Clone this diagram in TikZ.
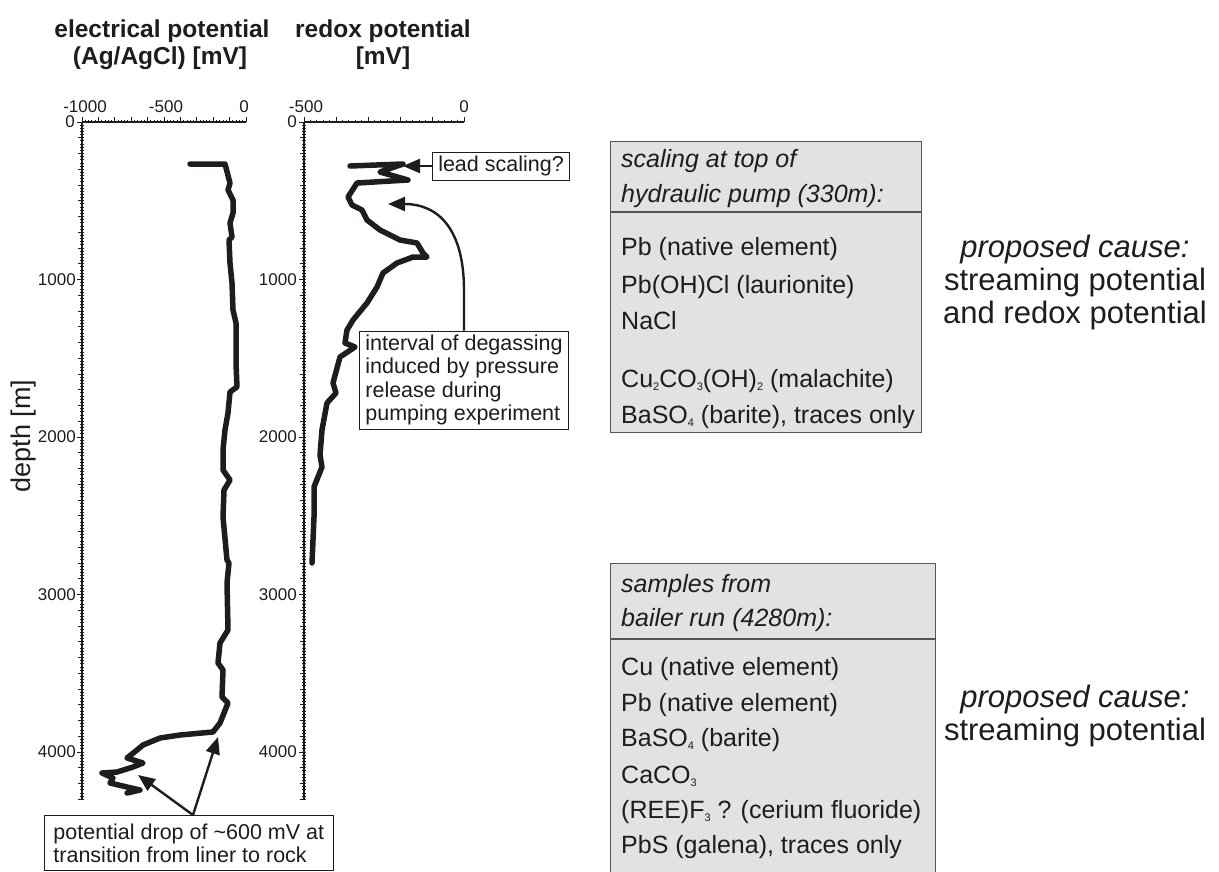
\documentclass[tikz,border=0pt]{standalone}
\usepackage{fontspec}
\setmainfont{Liberation Sans}
\usetikzlibrary{arrows.meta}
\definecolor{boxgray}{RGB}{226,226,226}
\definecolor{boxedge}{RGB}{85,85,85}
\definecolor{ink}{RGB}{30,28,28}
\newcommand\lowsub[1]{\raisebox{-0.3ex}{\fontsize{11}{11}\selectfont #1}}
\newcommand\szbox{\fontsize{25}{30}\selectfont}
\newcommand\sztitle{\fontsize{24.5}{28}\selectfont}
\newcommand\sztick{\fontsize{17}{19}\selectfont}
\newcommand\szann{\fontsize{21.5}{23.3}\selectfont}
\newcommand\szcause{\fontsize{31}{33}\selectfont}
\newcommand\szdepth{\fontsize{27}{30}\selectfont}
\begin{document}
\begin{tikzpicture}[x=1pt,y=-1pt,
  every node/.style={inner sep=0pt, text=ink},
  ttl/.style={font=\sztitle\bfseries, anchor=base},
  tlab/.style={font=\sztick},
  itm/.style={font=\szbox, anchor=base west},
  hdr/.style={font=\szbox\itshape, anchor=base west},
  cause/.style={font=\szcause, anchor=base},
  ann/.style={draw=ink, line width=0.9pt, font=\szann, align=left, inner xsep=6pt, inner ysep=4pt},
  arr/.style={draw=ink, line width=2.4pt, -{Triangle[length=17pt,width=14pt]}},
  curve/.style={draw=ink, line width=5.5pt, line join=round, line cap=round},
  axis/.style={draw=ink, line width=1.5pt},
  tick/.style={draw=ink, line width=0.9pt},
  gbox/.style={draw=boxedge, fill=boxgray, line width=1.1pt, inner sep=0pt, anchor=north west},
  divider/.style={draw=boxedge, line width=1.1pt}
]
\clip (0,0) rectangle (1219,871);

% ---------- titles ----------
\node[ttl] (t1) at (162,37) {electrical potential};
\node[ttl] (t2) at (160,64) {(Ag/AgCl) [mV]};
\node[ttl] (t3) at (383,37) {redox potential};
\node[ttl] (t4) at (383,64) {[mV]};

% ---------- axis 1 ----------
\draw[axis] (82,122) -- (246,122);
\draw[axis] (82,122) -- (82,800);
\foreach \v in {0,20,...,1000} \draw[tick] ({246-\v*0.164},122) -- ++(0,-2.5);
\foreach \v in {0,100,...,1000} \draw[tick] ({246-\v*0.164},122) -- ++(0,-5);
\foreach \d in {20,40,...,4300} \draw[tick] (80,{122+\d*0.1575}) -- (84,{122+\d*0.1575});
\foreach \d in {0,100,...,4300} \draw[tick] (78,{122+\d*0.1575}) -- (82,{122+\d*0.1575});
\foreach \d in {0,1000,...,4000} \draw[tick] (76.5,{122+\d*0.1575}) -- (82,{122+\d*0.1575});
\node[tlab, anchor=base] (a1m1000) at (85,112) {-1000};
\node[tlab, anchor=base] (a1m500) at (166,112) {-500};
\node[tlab, anchor=base] (a1z) at (244,112) {0};
\node[tlab, anchor=east] (a1d0) at (75,122) {0};
\node[tlab, anchor=east] (a1d1) at (76,279.5) {1000};
\node[tlab, anchor=east] (a1d2) at (76,437) {2000};
\node[tlab, anchor=east] (a1d3) at (76,594.5) {3000};
\node[tlab, anchor=east] (a1d4) at (76,752) {4000};

% ---------- axis 2 ----------
\draw[axis] (304,122) -- (464,122);
\draw[axis] (304,122) -- (304,800);
\foreach \v in {0,20,...,500} \draw[tick] ({464-\v*0.32},122) -- ++(0,-2.5);
\foreach \v in {0,100,...,500} \draw[tick] ({464-\v*0.32},122) -- ++(0,-5);
\foreach \d in {20,40,...,4300} \draw[tick] (302,{122+\d*0.1575}) -- (306,{122+\d*0.1575});
\foreach \d in {0,100,...,4300} \draw[tick] (300,{122+\d*0.1575}) -- (304,{122+\d*0.1575});
\foreach \d in {0,1000,...,4000} \draw[tick] (298.5,{122+\d*0.1575}) -- (304,{122+\d*0.1575});
\node[tlab, anchor=base] (a2m500) at (306,112) {-500};
\node[tlab, anchor=base] (a2z) at (464,112) {0};
\node[tlab, anchor=east] (a2d0) at (297,122) {0};
\node[tlab, anchor=east] (a2d1) at (297,279.5) {1000};
\node[tlab, anchor=east] (a2d2) at (297,437) {2000};
\node[tlab, anchor=east] (a2d3) at (297,594.5) {3000};
\node[tlab, anchor=east] (a2d4) at (297,752) {4000};

\node[font=\szdepth, rotate=90] (dlab) at (24,436) {depth [m]};

% ---------- electrical potential curve ----------
\draw[curve] (190,164) -- (225,164) -- (230,183) -- (228,190) -- (233,200) -- (233,213) -- (230,223) -- (232,237) -- (229,240) -- (230,263) -- (232,283) -- (233,310) -- (236,323) -- (236,363) -- (237,387) -- (230,392) -- (228,413) -- (225,430) -- (223,450) -- (223,470) -- (230,480) -- (224,490) -- (223,517) -- (227,560) -- (229,563) -- (227,583) -- (228,630) -- (220,643) -- (218,663) -- (223,670) -- (222,697) -- (228,703) -- (220,723) -- (213,732) -- (180,735) -- (160,738) -- (143,745) -- (137,750) -- (127,758) -- (143,763) -- (133,767) -- (117,772) -- (102,773) -- (113,778) -- (110,783) -- (127,787) -- (140,790) -- (127,793);

% ---------- redox curve ----------
\draw[curve] (350,166) -- (403,164) -- (380,172) -- (408,180) -- (357,183) -- (348,197) -- (352,205) -- (362,210) -- (367,220) -- (380,230) -- (400,240) -- (417,243) -- (423,253) -- (427,257) -- (413,257) -- (397,263) -- (383,273) -- (377,287) -- (367,303) -- (353,320) -- (347,330) -- (345,343) -- (355,347) -- (340,357) -- (333,383) -- (336,393) -- (327,403) -- (322,430) -- (320,455) -- (322,467) -- (314,487) -- (314,517) -- (312,563);

% ---------- annotations ----------
\node[ann, fill=white] (lead) at (501,166) {lead scaling?};
\coordinate (leadtip) at (403,166);
\draw[arr] (lead.west) -- (leadtip);

\node[ann, fill=white] (degas) at (464,380) {interval of degassing\\induced by pressure\\release during\\pumping experiment};
\coordinate (degtip) at (388,204);
\draw[arr] (degas.north) -- ++(0,-40) .. controls +(0,-62) and (438,204) .. (degtip);

\node[ann, fill=white, anchor=north west, inner xsep=9pt, inner ysep=8pt] (drop) at (44,815) {potential drop of \textasciitilde600 mV at\\transition from liner to rock};
\coordinate (dropsrc) at (193,815);
\coordinate (droptipA) at (138,775);
\coordinate (droptipB) at (218,737);
\draw[arr] (dropsrc) -- (droptipA);
\draw[arr] (dropsrc) -- (droptipB);

% ---------- box 1 ----------
\node[gbox, minimum width=311pt, minimum height=291pt] (sbox) at (610,141) {};
\draw[divider] (sbox.west |- 0,212) -- (sbox.east |- 0,212);
\node[hdr] (s1) at (621,167) {scaling at top of};
\node[hdr] (s2) at (621,202) {hydraulic pump (330m):};
\node[itm] (s3) at (621,255) {Pb (native element)};
\node[itm] (s4) at (621,293) {Pb(OH)Cl (laurionite)};
\node[itm] (s5) at (621,329) {NaCl};
\node[itm] (s6) at (621,387) {Cu\lowsub{2}CO\lowsub{3}(OH)\lowsub{2} (malachite)};
\node[itm] (s7) at (621,423) {BaSO\lowsub{4} (barite), traces only};

\node[cause, font=\szcause\itshape] (c1) at (1075,257) {proposed cause:};
\node[cause] (c2) at (1075,290) {streaming potential};
\node[cause] (c3) at (1075,323) {and redox potential};

% ---------- box 2 ----------
\node[gbox, minimum width=325pt, minimum height=330pt] (bbox) at (610,563) {};
\draw[divider] (bbox.west |- 0,639) -- (bbox.east |- 0,639);
\node[hdr] (b1) at (621,592) {samples from};
\node[hdr] (b2) at (621,626) {bailer run (4280m):};
\node[itm] (b3) at (621,675) {Cu (native element)};
\node[itm] (b4) at (621,711) {Pb (native element)};
\node[itm] (b5) at (621,746) {BaSO\lowsub{4} (barite)};
\node[itm] (b6) at (621,783) {CaCO\lowsub{3}};
\node[itm] (b7) at (621,818) {(REE)F\lowsub{3} ? (cerium fluoride)};
\node[itm] (b8) at (621,853) {PbS (galena), traces only};

\node[cause, font=\szcause\itshape] (c4) at (1075,707) {proposed cause:};
\node[cause] (c5) at (1075,740) {streaming potential};
\end{tikzpicture}
\end{document}
